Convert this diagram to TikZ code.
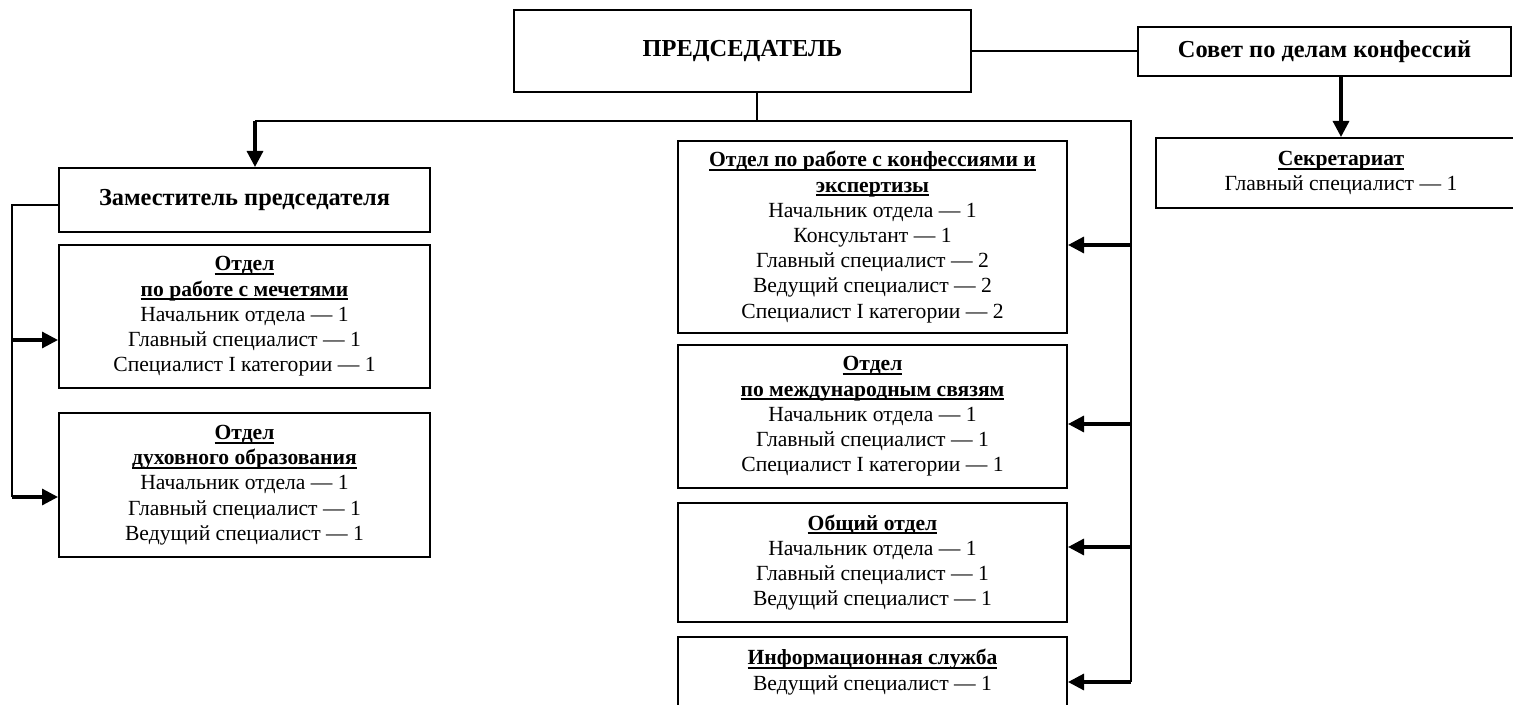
\documentclass[tikz,border=0pt]{standalone}
\usepackage{fontspec}
\setmainfont{Liberation Serif}
\usetikzlibrary{arrows.meta,calc}
\newcommand{\hd}[1]{\setbox0\hbox{\bfseries #1}\leavevmode\rlap{\vrule height -1.1pt depth 2.1pt width \wd0}\box0}
\begin{document}
\begin{tikzpicture}[x=0.5pt,y=-0.5pt,
  box/.style={draw,line width=1pt,fill=white,align=center,inner sep=2pt,
    font=\fontsize{10.8}{12.6}\selectfont},
  bigbox/.style={box,font=\fontsize{12.2}{14}\selectfont\bfseries},
  thin/.style={line width=0.9pt},
  arr/.style={line width=1.6pt,-{Triangle[length=8pt,width=8pt]}}]
\useasboundingbox (0,0) rectangle (1513,705);
% top
\node[bigbox,minimum width=228.5pt,minimum height=41pt] (pred) at (742.5,51) {ПРЕДСЕДАТЕЛЬ};
\node[bigbox,minimum width=186.5pt,minimum height=24.5pt] (sovet) at (1324.5,51.5) {Совет по делам конфессий};
\node[box,minimum width=185pt,minimum height=35pt] (sekr) at (1341,173) {\hd{Секретариат}\\Главный специалист — 1};
% left
\node[bigbox,minimum width=185.5pt,minimum height=32pt] (zam) at (244.5,200) {Заместитель председателя};
\node[box,minimum width=185.5pt,minimum height=71.5pt] (mech) at (244.5,316.5) {\hd{Отдел}\\\hd{по работе с мечетями}\\Начальник отдела — 1\\Главный специалист — 1\\Специалист I категории — 1};
\node[box,minimum width=185.5pt,minimum height=72pt] (dukh) at (244.5,485) {\hd{Отдел}\\\hd{духовного образования}\\Начальник отдела — 1\\Главный специалист — 1\\Ведущий специалист — 1};
% centre
\node[box,minimum width=194.5pt,minimum height=96pt] (c1) at (872.5,237) {\hd{Отдел по работе с конфессиями и}\\\hd{экспертизы}\\Начальник отдела — 1\\Консультант — 1\\Главный специалист — 2\\Ведущий специалист — 2\\Специалист I категории — 2};
\node[box,minimum width=194.5pt,minimum height=71.5pt] (c2) at (872.5,416.5) {\hd{Отдел}\\\hd{по международным связям}\\Начальник отдела — 1\\Главный специалист — 1\\Специалист I категории — 1};
\node[box,minimum width=194.5pt,minimum height=59.5pt] (c3) at (872.5,562.5) {\hd{Общий отдел}\\Начальник отдела — 1\\Главный специалист — 1\\Ведущий специалист — 1};
\node[box,minimum width=194.5pt,minimum height=35pt] (c4) at (872.5,672) {\hd{Информационная служба}\\Ведущий специалист — 1};
% coordinates
\coordinate (hub) at (757,121);
\coordinate (hl) at (255,121);
\coordinate (hr) at (1131,121);
\coordinate (t1) at (1131,245);
\coordinate (t2) at (1131,424);
\coordinate (t3) at (1131,547);
\coordinate (t4) at (1131,682);
\coordinate (lz) at (12,205);
\coordinate (l1) at (12,340);
\coordinate (l2) at (12,497);
% connectors
\draw[thin] (pred.east) -- (sovet.west |- pred.east);
\draw[arr] (sekr.north |- sovet.south) -- (sekr.north);
\draw[thin] (pred.south -| hub) -- (hub);
\draw[thin] (hl) -- (hr) -- (t4);
\draw[arr] (hl) -- (hl |- zam.north);
\draw[arr] (t1) -- (t1 -| c1.east);
\draw[arr] (t2) -- (t2 -| c2.east);
\draw[arr] (t3) -- (t3 -| c3.east);
\draw[arr] (t4) -- (t4 -| c4.east);
\draw[thin] (zam.west |- lz) -- (lz) -- (l2);
\draw[arr] (l1) -- (l1 -| mech.west);
\draw[arr] (l2) -- (l2 -| dukh.west);
\end{tikzpicture}
\end{document}
